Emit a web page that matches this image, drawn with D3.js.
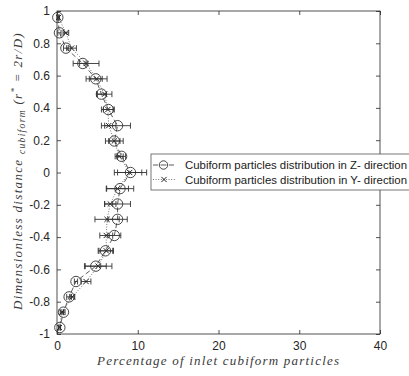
<!DOCTYPE html>
<html>
<head>
<meta charset="utf-8">
<script src="https://cdn.jsdelivr.net/npm/d3@7"></script>
<style>
  html, body { margin: 0; padding: 0; background: #fff; }
  svg { display: block; }
</style>
</head>
<body>
<svg id="chart" width="409" height="376"></svg>
<script>
// Radial positions (dimensionless distance r* = 2r/D)
const radialPos = [0.96, 0.865, 0.77, 0.675, 0.58, 0.485, 0.39, 0.29, 0.195, 0.10, 0,
                   -0.10, -0.195, -0.29, -0.39, -0.485, -0.58, -0.675, -0.77, -0.865, -0.96];

// Z-direction distribution (percentage) and its spread
const zValues = [0.1, 0.3, 1.1, 3.2, 4.8, 5.5, 6.35, 7.5, 7.1, 8.0, 9.1,
                 7.8, 7.5, 7.5, 7.1, 6.0, 4.8, 2.35, 1.5, 0.8, 0.35];
const zErrors = [0.1, 0.2, 0.3, 0.4, 0.8, 0.6, 0.6, 1.6, 0.7, 0.5, 2.0,
                 1.7, 1.6, 1.2, 0.8, 0.9, 1.3, 0.2, 0.3, 0.2, 0.1];

// Y-direction distribution (percentage) and its spread
const yValues = [0.2, 1.1, 1.8, 3.6, 4.9, 5.9, 6.3, 6.4, 7.1, 7.7, 9.0,
                 7.5, 6.6, 6.2, 6.1, 6.1, 5.1, 3.6, 1.9, 0.6, 0.3];
const yErrors = [0.1, 0.35, 0.6, 1.6, 1.3, 0.9, 0.8, 0.9, 1.1, 0.5, 1.5,
                 1.35, 0.7, 1.5, 0.8, 0.9, 1.7, 0.6, 0.3, 0.2, 0.1];

const xTicks = [0, 10, 20, 30, 40];
const xTickLabels = ["0", "10", "20", "30", "40"];
const yTicks = [1, 0.8, 0.6, 0.4, 0.2, 0, -0.2, -0.4, -0.6, -0.8, -1];
const yTickLabels = ["1", "0.8", "0.6", "0.4", "0.2", "0", "-0.2", "-0.4", "-0.6", "-0.8", "-1"];

const legendLabels = ["Cubiform particles distribution in Z- direction",
                      "Cubiform particles distribution in Y- direction"];

const svg = d3.select("#chart");
const axisColor = "#262626";
const sans = "'Liberation Sans', Arial, sans-serif";
const serif = "'Liberation Serif', 'DejaVu Serif', serif";

const x = d3.scaleLinear().domain([0, 40]).range([57, 380]);
const y = d3.scaleLinear().domain([-1, 1]).range([334, 11]);

// Plot frame
svg.append("rect")
  .attr("x", x(0)).attr("y", y(1))
  .attr("width", x(40) - x(0)).attr("height", y(-1) - y(1))
  .attr("fill", "#fff").attr("stroke", axisColor).attr("stroke-width", 0.8);

function styleAxis(g, showLabels) {
  g.select(".domain").remove();
  g.selectAll(".tick line").attr("stroke", axisColor).attr("stroke-width", 0.8);
  g.selectAll(".tick text")
    .attr("fill", axisColor)
    .style("font-family", sans)
    .style("font-size", "12px")
    .style("display", showLabels ? null : "none");
}

const tickIdxX = d => xTicks.indexOf(d);
const tickIdxY = d => yTicks.indexOf(d);

svg.append("g").attr("transform", `translate(0,${y(-1)})`)
  .call(d3.axisBottom(x).tickValues(xTicks).tickFormat(d => xTickLabels[tickIdxX(d)])
    .tickSizeInner(-4).tickSizeOuter(0).tickPadding(7))
  .call(g => styleAxis(g, true));
svg.append("g").attr("transform", `translate(0,${y(1)})`)
  .call(d3.axisTop(x).tickValues(xTicks).tickSizeInner(-4).tickSizeOuter(0))
  .call(g => styleAxis(g, false));
svg.append("g").attr("transform", `translate(${x(0)},0)`)
  .call(d3.axisLeft(y).tickValues(yTicks).tickFormat(d => yTickLabels[tickIdxY(d)])
    .tickSizeInner(-4).tickSizeOuter(0).tickPadding(7))
  .call(g => styleAxis(g, true));
svg.append("g").attr("transform", `translate(${x(40)},0)`)
  .call(d3.axisRight(y).tickValues(yTicks).tickSizeInner(-4).tickSizeOuter(0))
  .call(g => styleAxis(g, false));

// Series data
const zData = radialPos.map((r, i) => ({ r, v: zValues[i], e: zErrors[i] }));
const yData = radialPos.map((r, i) => ({ r, v: yValues[i], e: yErrors[i] }));

const line = d3.line().x(d => x(d.v)).y(d => y(d.r));

function drawErrorBars(data, color) {
  const g = svg.append("g").attr("stroke", color).attr("stroke-width", 0.9);
  data.forEach(d => {
    const cy = y(d.r);
    g.append("line").attr("x1", x(d.v - d.e)).attr("x2", x(d.v + d.e)).attr("y1", cy).attr("y2", cy);
    g.append("line").attr("x1", x(d.v - d.e)).attr("x2", x(d.v - d.e)).attr("y1", cy - 3).attr("y2", cy + 3);
    g.append("line").attr("x1", x(d.v + d.e)).attr("x2", x(d.v + d.e)).attr("y1", cy - 3).attr("y2", cy + 3);
  });
}

// Y-direction series: dotted line with x markers
svg.append("path").datum(yData).attr("d", line)
  .attr("fill", "none").attr("stroke", "#555").attr("stroke-width", 0.8)
  .attr("stroke-dasharray", "1,1.6");
drawErrorBars(yData, "#333");
const crossSize = 2.6;
function cross(g, cx, cy) {
  g.append("line").attr("x1", cx - crossSize).attr("y1", cy - crossSize).attr("x2", cx + crossSize).attr("y2", cy + crossSize);
  g.append("line").attr("x1", cx - crossSize).attr("y1", cy + crossSize).attr("x2", cx + crossSize).attr("y2", cy - crossSize);
}
const crossG = svg.append("g").attr("stroke", "#222").attr("stroke-width", 1);
yData.forEach(d => cross(crossG, x(d.v), y(d.r)));

// Z-direction series: dashed line with open circles
svg.append("path").datum(zData).attr("d", line)
  .attr("fill", "none").attr("stroke", "#333").attr("stroke-width", 0.8)
  .attr("stroke-dasharray", "5,3");
drawErrorBars(zData, "#333");
svg.append("g").selectAll("circle").data(zData).join("circle")
  .attr("cx", d => x(d.v)).attr("cy", d => y(d.r)).attr("r", 5.2)
  .attr("fill", "none").attr("stroke", "#333").attr("stroke-width", 0.9);

// Legend
const lg = svg.append("g");
lg.append("rect").attr("x", 151).attr("y", 154).attr("width", 270).attr("height", 36)
  .attr("fill", "#fff").attr("stroke", "#555").attr("stroke-width", 0.8);
const legY = [165, 179.5];
// Z entry
lg.append("line").attr("x1", 153).attr("x2", 174).attr("y1", legY[0]).attr("y2", legY[0])
  .attr("stroke", "#333").attr("stroke-width", 0.8).attr("stroke-dasharray", "5,3");
lg.append("circle").attr("cx", 163.5).attr("cy", legY[0]).attr("r", 4.2)
  .attr("fill", "#fff").attr("stroke", "#333").attr("stroke-width", 0.9);
lg.append("line").attr("x1", 160.5).attr("x2", 166.5).attr("y1", legY[0]).attr("y2", legY[0])
  .attr("stroke", "#333").attr("stroke-width", 0.8);
// Y entry
lg.append("line").attr("x1", 153).attr("x2", 175).attr("y1", legY[1]).attr("y2", legY[1])
  .attr("stroke", "#555").attr("stroke-width", 0.8).attr("stroke-dasharray", "1,1.6");
const lgCross = lg.append("g").attr("stroke", "#222").attr("stroke-width", 1);
cross(lgCross, 164, legY[1]);
legendLabels.forEach((t, i) => {
  lg.append("text").attr("x", 185).attr("y", legY[i] + 4)
    .attr("fill", "#1a1a1a")
    .style("font-family", sans).style("font-size", "11px")
    .attr("textLength", 222).attr("lengthAdjust", "spacingAndGlyphs")
    .text(t);
});

// X axis title
svg.append("text")
  .attr("x", 218).attr("y", 365).attr("text-anchor", "middle")
  .attr("fill", "#3a3a3a")
  .style("font-family", serif).style("font-style", "italic").style("font-size", "13px")
  .attr("textLength", 242).attr("lengthAdjust", "spacing")
  .text("Percentage of inlet cubiform particles");

// Y axis title with subscript and superscript parts
const yt = svg.append("text")
  .attr("transform", "translate(22,171) rotate(-90)")
  .attr("text-anchor", "middle")
  .attr("fill", "#3a3a3a")
  .style("font-family", serif).style("font-style", "italic").style("font-size", "13px");
yt.append("tspan").text("Dimensionless distance ");
yt.append("tspan").style("font-size", "9.5px").attr("dy", 3).text("cubiform");
yt.append("tspan").attr("dy", -3).text(" (r");
yt.append("tspan").style("font-size", "9px").attr("dy", -5).text("*");
yt.append("tspan").attr("dy", 5).text(" = 2r/D)");
// Spread the math-style title to its full length along the axis
const target = 278;
const len = yt.node().getComputedTextLength();
const nChars = yt.text().length;
if (len < target) yt.style("letter-spacing", ((target - len) / nChars) + "px");
</script>
</body>
</html>
